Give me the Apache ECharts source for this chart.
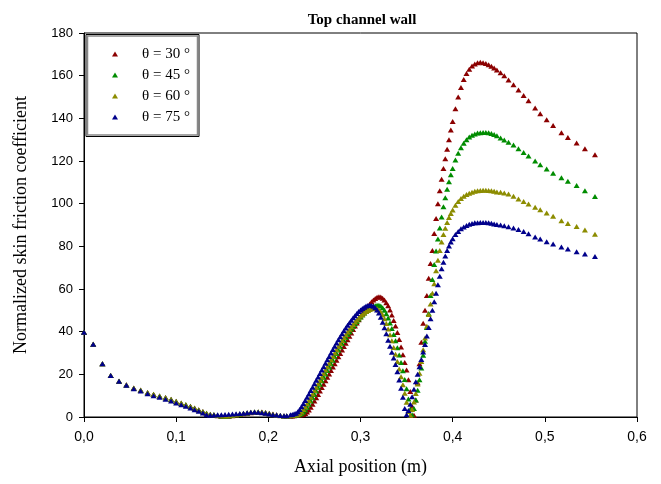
<!DOCTYPE html>
<html>
<head>
<meta charset="utf-8">
<script src="https://cdn.jsdelivr.net/npm/echarts@6/dist/echarts.min.js"></script>
<style>
html,body{margin:0;padding:0;background:#fff;}
#chart{width:661px;height:484px;}
</style>
</head>
<body>
<div id="chart"></div>
<script>
// Axial positions (m) of the mesh points
const xLeft = [0, 0.010, 0.020, 0.029, 0.038, 0.046, 0.054, 0.0615, 0.069, 0.0755, 0.082, 0.0885, 0.0945, 0.100, 0.1055, 0.1105, 0.1155, 0.120, 0.1245, 0.129, 0.133, 0.137];
const xFlat = [0.141, 0.145, 0.149, 0.153, 0.157, 0.161, 0.165, 0.169, 0.173, 0.177, 0.181, 0.185, 0.189, 0.193, 0.197, 0.201, 0.205, 0.209, 0.213, 0.217, 0.220];
const xMid = [0.224,0.226,0.228,0.230,0.232,0.234,0.236,0.238,0.240,0.242,0.244,0.246,0.248,0.250,0.252,0.254,0.256,0.258,0.260,0.262,0.264,0.266,0.268,0.270,0.272,0.274,0.276,0.278,0.280,0.282,0.284,0.286,0.288,0.290,0.292,0.294,0.296,0.298,0.300,0.302,0.304,0.306,0.308,0.310,0.312,0.314,0.316,0.318,0.320,0.322,0.324,0.326,0.328,0.330,0.332,0.334,0.336,0.338,0.340,0.342,0.344,0.346,0.348,0.350,0.352,0.354,0.356,0.358,0.360,0.362,0.364,0.366,0.368,0.370,0.372,0.374,0.376,0.378,0.380,0.382,0.384,0.386,0.388,0.390,0.392,0.394,0.396,0.398,0.400];
const xPeak = [0.403,0.406,0.409,0.412,0.415,0.418,0.421,0.424,0.427,0.430,0.433,0.436,0.439,0.442,0.445,0.448];
const xTail = [0.452,0.456,0.4606,0.466,0.4714,0.477,0.4823,0.4895,0.495,0.502,0.509,0.518,0.525,0.5345,0.5435,0.5544];

// Normalized skin friction coefficient, theta = 30
const y30 = [
  39.7,34.1,25.0,19.5,16.8,15.1,13.6,12.6,11.5,10.7,9.9,9.1,8.3,7.4,6.6,5.8,5.0,4.2,3.4,2.6,1.8,1.3,
  1.0,0.6,0.4,0.3,0.4,0.6,0.9,1.2,1.5,1.8,2.0,2.2,2.3,2.3,2.1,1.8,1.4,1.0,0.7,0.5,0.5,
  0.5,0.5,0.6,0.7,0.8,0.9,1.0,1.2,1.6,2.3,3.3,4.6,6.0,7.5,9.0,10.6,12.2,13.8,15.4,17.0,18.6,20.2,21.8,23.4,25.0,26.6,28.2,29.8,31.4,33.0,34.6,36.2,37.8,39.4,41.0,42.6,44.1,45.6,47.0,48.4,49.7,50.9,52.0,53.0,54.0,54.9,55.6,56.1,56.4,56.2,55.7,54.8,53.6,52.1,50.2,47.8,45.2,42.6,39.6,36.3,32.8,29.2,25.6,22.0,17.5,12.0,5.0,0.8,8,16,25,35,44,50,57,65,72,78,86,93,100,106,111.5,116.5,121,125.5,130,134.5,138.5,
  144.5,150,154.5,158.2,161.0,163.0,164.5,165.5,166.1,166.3,166.1,165.7,165.1,164.4,163.6,162.6,
  161.4,160.0,158.0,155.8,153.3,150.7,148.2,144.8,142.2,139.3,136.6,133.3,131.0,128.4,125.8,122.9
];
// theta = 45
const y45 = [
  39.7,34.1,25.0,19.5,16.8,15.0,13.5,12.5,11.4,10.6,9.8,9.0,8.2,7.3,6.5,5.7,4.9,4.1,3.3,2.5,1.7,1.2,
  1.0,0.7,0.5,0.4,0.5,0.7,1.0,1.3,1.6,1.9,2.1,2.3,2.3,2.2,2.0,1.6,1.2,0.9,0.7,0.5,0.5,
  0.6,0.7,0.8,0.9,1.0,1.2,1.6,2.3,3.3,4.6,6.0,7.5,9.0,10.6,12.2,13.8,15.4,17.0,18.6,20.2,21.8,23.4,25.0,26.6,28.2,29.8,31.4,32.9,34.4,35.9,37.3,38.7,40.0,41.3,42.5,43.7,44.8,45.9,46.9,47.8,48.7,49.5,50.2,50.8,51.4,51.9,52.2,52.4,52.4,52.0,51.2,50.0,48.4,46.4,44.1,41.5,38.7,35.7,32.5,29.1,25.5,21.7,17.6,13.2,8.4,3.5,1.0,4,8,12.5,17.5,23,29,35.5,42,48.5,57,64.5,71.5,77.8,83.4,88.6,93.8,98.5,102.8,106.8,110.3,113.6,116.5,
  120.5,123.6,126.2,128.3,130.0,131.2,132.1,132.7,133.1,133.3,133.4,133.4,133.2,132.9,132.4,131.8,
  130.8,129.9,128.8,127.5,125.8,124.0,122.3,120.0,118.2,116.2,114.3,112.1,110.5,108.5,106.0,103.4
];
// theta = 60
const y60 = [
  39.7,34.1,25.0,19.5,16.8,15.0,13.5,12.4,11.3,10.5,9.7,8.9,8.1,7.2,6.4,5.6,4.8,4.0,3.2,2.4,1.6,1.1,
  1.0,0.8,0.6,0.5,0.6,0.8,1.1,1.4,1.7,2.0,2.2,2.3,2.3,2.1,1.8,1.5,1.1,0.8,0.6,0.5,0.5,
  0.7,0.8,0.9,1.0,1.2,1.6,2.4,3.5,4.8,6.2,7.7,9.2,10.8,12.4,14.0,15.6,17.2,18.8,20.4,22.0,23.6,25.2,26.8,28.4,30.0,31.5,33.0,34.5,35.9,37.3,38.6,39.9,41.1,42.3,43.4,44.5,45.5,46.4,47.3,48.1,48.8,49.4,49.9,50.4,50.7,50.9,51.0,50.8,50.2,49.2,47.8,46.0,43.8,41.3,38.6,35.7,32.6,29.4,26.0,22.5,18.9,15.1,11.1,6.9,2.6,0.8,3.5,7,11,15.5,20.5,26,31.5,37,42.5,48,53,58,62.5,68.5,73.5,78.0,82.0,85.5,88.5,91.2,93.5,95.4,97.0,
  99.2,101.0,102.4,103.5,104.3,104.9,105.4,105.8,106.0,106.2,106.3,106.3,106.2,106.0,105.8,105.5,
  105.3,105.0,104.5,103.5,102.2,101.0,99.8,98.3,97.1,95.6,94.1,92.0,90.7,89.3,87.6,85.7
];
// theta = 75
const y75 = [
  39.7,34.1,25.0,19.5,16.7,14.9,13.3,12.2,10.9,10.0,9.2,8.3,7.5,6.6,5.8,5.0,4.2,3.4,2.7,1.9,1.1,0.8,
  0.9,1.0,1.1,1.2,1.3,1.4,1.5,1.6,1.8,2.0,2.2,2.3,2.2,2.0,1.7,1.4,1.1,0.9,0.7,0.6,0.6,
  1.0,1.2,1.5,1.8,2.5,3.5,4.8,6.2,7.7,9.2,10.8,12.4,14.0,15.6,17.2,18.8,20.4,22.0,23.6,25.2,26.8,28.4,30.0,31.6,33.2,34.7,36.2,37.6,39.0,40.4,41.7,43.0,44.2,45.4,46.5,47.5,48.5,49.4,50.2,50.9,51.5,52.0,52.3,52.5,52.3,51.9,51.2,50.2,48.8,46.8,44.4,41.8,39.0,36.0,33.2,30.4,27.6,24.6,21.2,17.4,13.5,9.2,4.0,1.0,3.0,6.0,9.5,13.0,16.5,20.0,23.5,27.0,30.5,34.0,38.0,42.0,46.0,50.0,54.0,58.0,62.0,66.0,69.5,72.5,75.5,78.0,80.2,82.0,83.5,
  85.5,87.0,88.2,89.1,89.8,90.3,90.7,91.0,91.1,91.2,91.2,91.2,91.0,90.8,90.5,90.2,
  90.0,89.7,89.2,88.6,87.9,87.0,85.9,84.4,83.4,82.2,81.1,79.7,78.7,77.5,76.4,75.2
];

const seriesNames = ['θ = 30 °', 'θ = 45 °', 'θ = 60 °', 'θ = 75 °'];
const seriesColors = ['#8b0000', '#008c00', '#8c8c00', '#00008b'];
const xTicks = [0, 0.1, 0.2, 0.3, 0.4, 0.5, 0.6];
const yTicks = [0, 20, 40, 60, 80, 100, 120, 140, 160, 180];

const xs = xLeft.concat(xFlat, xMid, xPeak, xTail);
const ySets = [y30, y45, y60, y75];

const SERIF = '"Liberation Serif", "Times New Roman", serif';
const SANS = '"Liberation Sans", Arial, sans-serif';

const chart = echarts.init(document.getElementById('chart'), null, {renderer: 'canvas'});
chart.setOption({
  animation: false,
  backgroundColor: '#fff',
  title: {
    text: 'Top channel wall',
    left: 357, top: 8, textAlign: 'center',
    textStyle: {fontFamily: SERIF, fontSize: 15, fontWeight: 'bold', color: '#000'}
  },
  graphic: [
    {type: 'rect', shape: {x: 86, y: 34.5, width: 113, height: 102}, style: {fill: '#fff', stroke: '#000', lineWidth: 1}, z: 5},
    {type: 'rect', shape: {x: 87.5, y: 36, width: 110, height: 99}, style: {fill: 'none', stroke: '#888', lineWidth: 1.5}, z: 5}
  ],
  legend: {
    orient: 'vertical',
    left: 112, top: 46,
    padding: 0,
    itemGap: 5,
    itemWidth: 6, itemHeight: 5,
    icon: 'triangle',
    z: 10,
    data: seriesNames,
    textStyle: {fontFamily: SERIF, fontSize: 15, color: '#000', lineHeight: 16, padding: [0, 0, 0, 19]}
  },
  grid: {left: 84, right: 24, top: 33, bottom: 67, show: true, borderColor: '#000', borderWidth: 1, backgroundColor: 'transparent'},
  xAxis: {
    type: 'value', min: xTicks[0], max: xTicks[xTicks.length - 1], interval: 0.1,
    name: 'Axial position (m)', nameLocation: 'middle', nameGap: 41,
    nameTextStyle: {fontFamily: SERIF, fontSize: 18, color: '#000'},
    axisLine: {show: true, lineStyle: {color: '#000', width: 1}},
    axisTick: {show: true, inside: false, length: 5, lineStyle: {color: '#000'}},
    splitLine: {show: false},
    axisLabel: {fontFamily: SANS, fontSize: 14, color: '#000', margin: 13,
      formatter: v => v.toFixed(1).replace('.', ',')}
  },
  yAxis: {
    type: 'value', min: yTicks[0], max: yTicks[yTicks.length - 1], interval: 20,
    name: 'Normalized skin friction coefficient', nameLocation: 'middle', nameGap: 54,
    nameTextStyle: {fontFamily: SERIF, fontSize: 18, color: '#000'},
    axisLine: {show: true, lineStyle: {color: '#000', width: 1}},
    axisTick: {show: true, inside: false, length: 5, lineStyle: {color: '#000'}},
    splitLine: {show: false},
    axisLabel: {fontFamily: SANS, fontSize: 13, color: '#000', margin: 11}
  },
  series: ySets.map((ys, k) => ({
    name: seriesNames[k],
    type: 'scatter',
    symbol: 'triangle',
    symbolSize: [6, 5],
    itemStyle: {color: seriesColors[k], opacity: 1},
    z: 2 + k,
    data: xs.map((x, i) => [x, ys[i]])
  }))
});
</script>
</body>
</html>
